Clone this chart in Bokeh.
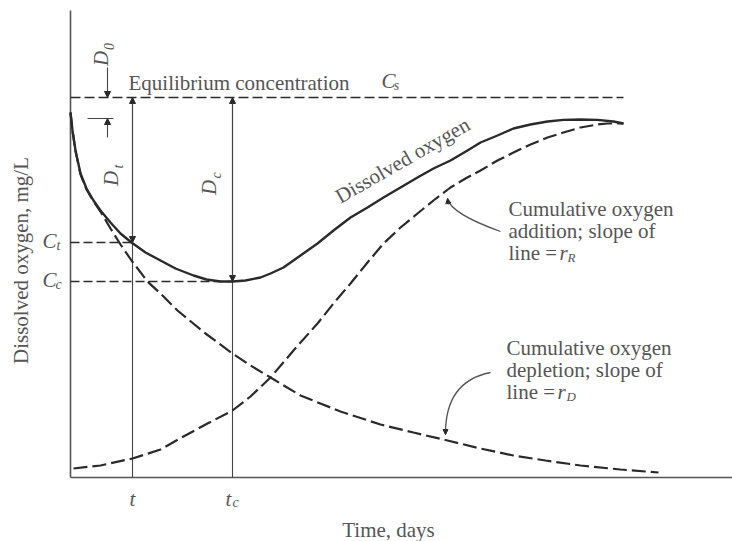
import math
from bokeh.plotting import figure
from bokeh.models import Range1d, Label, Arrow, NormalHead
from bokeh.embed import file_html
from bokeh.resources import INLINE

# ---- data (time in days, concentration in mg/L) ----
do_time = [0.0, 0.04, 0.1, 0.2, 0.32, 0.46, 0.6, 0.8, 1.0, 1.22, 1.5, 1.8, 2.1, 2.46,
           2.72, 3.0, 3.24, 3.5, 3.8, 4.0, 4.26, 4.6, 4.94, 5.26, 5.6, 5.94, 6.26,
           6.6, 6.94, 7.26, 7.6, 7.94, 8.2, 8.54, 8.86, 9.2, 9.54, 9.86, 10.2, 10.54,
           10.86, 11.06]
do_conc = [9.125, 8.675, 8.175, 7.6, 7.225, 6.925, 6.675, 6.375, 6.1, 5.875, 5.625,
           5.425, 5.225, 5.05, 4.95, 4.9, 4.9, 4.925, 5.0, 5.1, 5.25, 5.55, 5.85,
           6.175, 6.5, 6.75, 7.0, 7.25, 7.5, 7.725, 7.925, 8.175, 8.375, 8.55, 8.725,
           8.825, 8.9, 8.94, 8.95, 8.94, 8.9, 8.85]

dep_time = [0.0, 0.04, 0.1, 0.2, 0.32, 0.46, 0.6, 0.8, 1.0, 1.22, 1.54, 1.8, 2.14,
            2.7, 3.24, 3.6, 4.0, 4.6, 5.4, 6.2, 6.86, 7.54, 8.2, 8.86, 9.5, 10.2,
            11.0, 11.76]
dep_conc = [9.125, 8.67, 8.16, 7.58, 7.2, 6.9, 6.65, 6.225, 5.825, 5.425, 4.9, 4.6,
            4.175, 3.6, 3.1, 2.8, 2.5, 2.05, 1.65, 1.325, 1.125, 0.925, 0.725, 0.55,
            0.425, 0.3, 0.2, 0.125]

add_time = [0.06, 0.6, 1.24, 1.8, 2.26, 2.74, 3.24, 3.6, 4.0, 4.46, 4.94, 5.26, 5.6,
            5.94, 6.26, 6.6, 6.94, 7.26, 7.6, 7.9, 8.2, 8.54, 8.86, 9.2, 9.54, 9.86,
            10.2, 10.54, 10.74, 11.06]
add_conc = [0.225, 0.3, 0.475, 0.7, 1.025, 1.35, 1.675, 2.025, 2.5, 3.175, 3.85, 4.35,
            4.85, 5.375, 5.85, 6.25, 6.6, 6.925, 7.25, 7.475, 7.675, 7.925, 8.125,
            8.325, 8.5, 8.625, 8.75, 8.825, 8.85, 8.85]

C_s = 9.5       # equilibrium concentration
t_val = 1.24    # time t
t_c = 3.24      # critical time
C_t = 5.875     # DO at time t
C_c = 4.9       # critical (minimum) DO

# ---- layout ----
W, H = 732, 541
ORIGIN_X, ORIGIN_Y = 70, 477   # page pixel of the axes origin
PXX = 50.0   # pixels per day
PXY = 40.0   # pixels per mg/L
X0, X1 = -ORIGIN_X / PXX, (W - ORIGIN_X) / PXX
Y0, Y1 = -(H - ORIGIN_Y) / PXY, ORIGIN_Y / PXY
Y_AXIS_TOP = (ORIGIN_Y - 10) / PXY

FONT = "Liberation Serif"
TXT = "#555555"
LN = "#2a2a2a"
FS = 21

p = figure(width=W, height=H, output_backend="svg", toolbar_location=None,
           x_range=Range1d(X0, X1), y_range=Range1d(Y0, Y1),
           x_axis_type=None, y_axis_type=None,
           min_border_left=0, min_border_right=0, min_border_top=0, min_border_bottom=0)
p.outline_line_color = None
p.grid.visible = False
p.background_fill_color = "white"


def dx(px):
    return px / PXX


def dy(px):
    return px / PXY


# axes lines
p.line([0, 0], [0, Y_AXIS_TOP], line_color="#555555", line_width=1.6)
p.line([0, X1], [0, 0], line_color="#555555", line_width=1.6)

# equilibrium line
p.line([0, do_time[-1]], [C_s, C_s], line_color=LN, line_width=1.6, line_dash="10 4")

# critical / time reference lines
p.line([0, t_val], [C_t, C_t], line_color=LN, line_width=1.3, line_dash="9 4")
p.line([0, t_c], [C_c, C_c], line_color=LN, line_width=1.3, line_dash="9 4")
p.line([t_val, t_val], [0, C_s], line_color="#444444", line_width=1.1)
p.line([t_c, t_c], [0, C_s], line_color="#444444", line_width=1.1)

# curves
p.line(dep_time, dep_conc, line_color=LN, line_width=2.2, line_dash="14 5")
p.line(add_time, add_conc, line_color=LN, line_width=2.2, line_dash="14 5")
p.line(do_time, do_conc, line_color=LN, line_width=2.4, line_join="round")


def head(size=6):
    return NormalHead(size=size, fill_color=LN, line_color=LN, line_width=1)


# D_t and D_c deficit arrows
p.add_layout(Arrow(start=head(), end=head(), x_start=t_val, y_start=C_t,
                   x_end=t_val, y_end=C_s, line_color="#444444", line_width=1.1))
p.add_layout(Arrow(start=head(), end=head(), x_start=t_c, y_start=C_c,
                   x_end=t_c, y_end=C_s, line_color="#444444", line_width=1.1))

# D0 arrows
d0x = dx(37)
d0_mark = C_s - dy(21)
p.add_layout(Arrow(end=head(), x_start=d0x, y_start=C_s + dy(30), x_end=d0x, y_end=C_s,
                   line_color="#444444", line_width=1.1))
p.add_layout(Arrow(end=head(), x_start=d0x, y_start=d0_mark - dy(19), x_end=d0x,
                   y_end=d0_mark, line_color="#444444", line_width=1.1))
p.line([d0x - dx(20), d0x + dx(6)], [d0_mark, d0_mark], line_color="#444444", line_width=1.2)


def lab(x, y, text, size=FS, style="normal", align="left", baseline="middle", angle=0.0,
        color=TXT):
    p.add_layout(Label(x=x, y=y, text=text, text_font=FONT, text_font_size=f"{size}px",
                       text_font_style=style, text_color=color, text_align=align,
                       text_baseline=baseline, angle=angle))


def sym(x, y, main, sub, sub_dx, sub_dy, size=FS, sub_size=14, angle=0.0):
    lab(x, y, main, size=size, style="italic", align="center", angle=angle)
    lab(x + dx(sub_dx), y + dy(sub_dy), sub, size=sub_size, style="italic",
        align="center", angle=angle)


# axis titles
lab(dx(388 - ORIGIN_X), -dy(529 - ORIGIN_Y), "Time, days", align="center")
lab(-dx(ORIGIN_X - 20), dy(ORIGIN_Y - 260), "Dissolved oxygen, mg/L", align="center",
    angle=math.pi / 2)

# symbol labels
sym(-dx(21), C_t + dy(2), "C", "t", 9, -5)
sym(-dx(21), C_c + dy(2), "C", "c", 9, -5)
lab(t_val, -dy(21), "t", style="italic", align="center")
sym(t_c - dx(4), -dy(21), "t", "c", 7, -4)
sym(dx(318), C_s + dy(17), "C", "s", 8, -5)
sym(dx(30), C_s + dy(39), "D", "0", 8, 12, angle=math.pi / 2)
sym(dx(40), C_s - dy(81), "D", "t", 8, 12, angle=math.pi / 2)
sym(dx(138), C_s - dy(90), "D", "c", 8, 12, angle=math.pi / 2)

# text
lab(dx(58), C_s + dy(15), "Equilibrium concentration")
lab(6.64, 7.93, "Dissolved oxygen", align="center", angle=0.52)

bx1 = dx(438)
lab(bx1, dy(ORIGIN_Y - 208), "Cumulative oxygen")
lab(bx1, dy(ORIGIN_Y - 230), "addition; slope of")
lab(bx1, dy(ORIGIN_Y - 252), "line =")
lab(bx1 + dx(51), dy(ORIGIN_Y - 252), "r", style="italic")
lab(bx1 + dx(59), dy(ORIGIN_Y - 257), "R", size=13, style="italic")

bx2 = dx(436)
lab(bx2, dy(ORIGIN_Y - 347), "Cumulative oxygen")
lab(bx2, dy(ORIGIN_Y - 369), "depletion; slope of")
lab(bx2, dy(ORIGIN_Y - 391), "line =")
lab(bx2 + dx(51), dy(ORIGIN_Y - 391), "r", style="italic")
lab(bx2 + dx(60), dy(ORIGIN_Y - 396), "D", size=13, style="italic")

# curved leader arrows
p.quadratic(x0=[dx(430)], y0=[dy(ORIGIN_Y - 231)], x1=[dx(377)], y1=[dy(ORIGIN_Y - 198)],
            cx=[dx(380)], cy=[dy(ORIGIN_Y - 213)], line_color="#555555", line_width=1.3)
p.add_layout(Arrow(end=head(5), x_start=dx(378), y_start=dy(ORIGIN_Y - 204),
                   x_end=dx(377), y_end=dy(ORIGIN_Y - 198),
                   line_color="#555555", line_width=1.0))
p.quadratic(x0=[dx(420)], y0=[dy(ORIGIN_Y - 372)], x1=[dx(375)], y1=[dy(ORIGIN_Y - 434)],
            cx=[dx(374.5)], cy=[dy(ORIGIN_Y - 381)], line_color="#555555", line_width=1.3)
p.add_layout(Arrow(end=head(5), x_start=dx(375), y_start=dy(ORIGIN_Y - 428),
                   x_end=dx(375), y_end=dy(ORIGIN_Y - 434),
                   line_color="#555555", line_width=1.0))

open("out.html", "w").write(file_html(p, INLINE))
